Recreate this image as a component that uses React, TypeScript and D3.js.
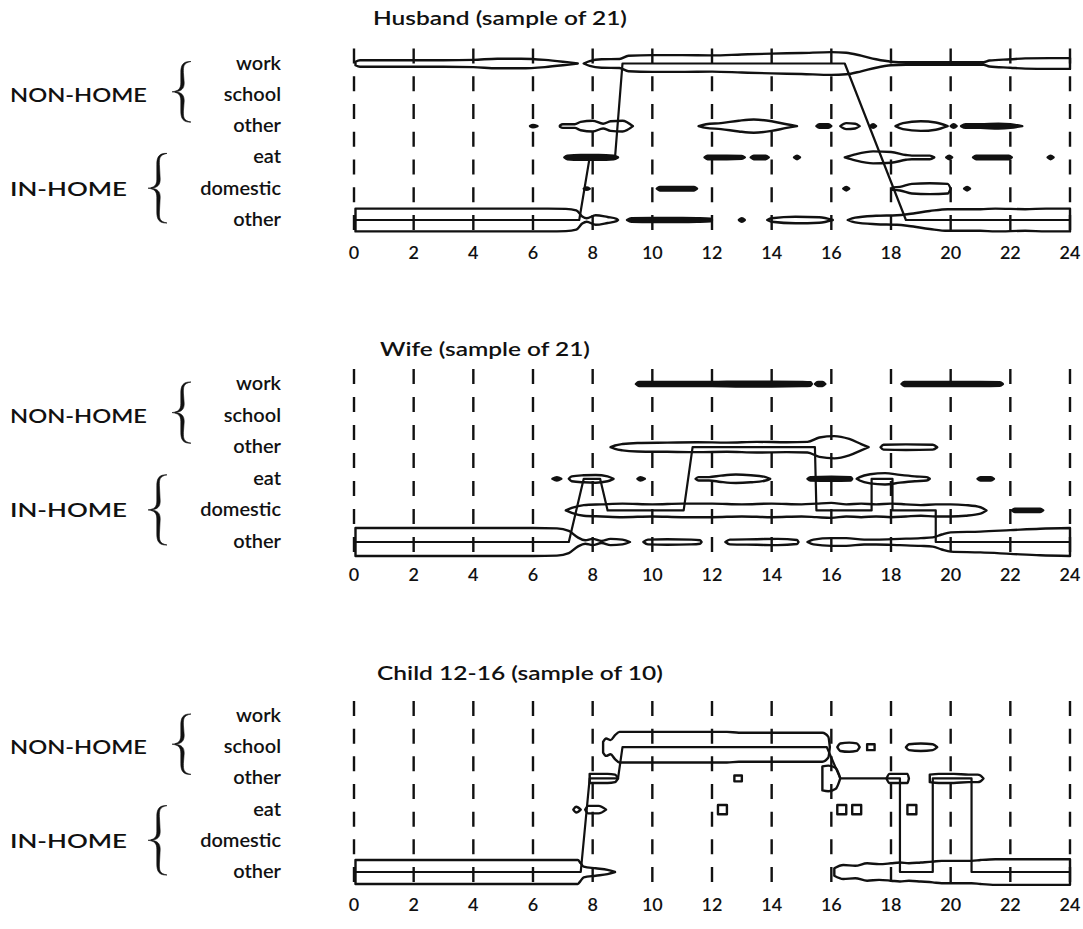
import React from "react";
import * as d3 from "d3";

type Pt = [number, number];
interface Band { row: number; pts: Pt[] }

const hourTicks = [0, 2, 4, 6, 8, 10, 12, 14, 16, 18, 20, 22, 24];
const rowLabels = ["work", "school", "other", "eat", "domestic", "other"];
const groupLabels = ["NON-HOME", "IN-HOME"];
const panelTitles = ["Husband (sample of 21)", "Wife (sample of 21)", "Child 12-16 (sample of 10)"];

// [hour, persons] along each activity row
const husbandBands: Band[] = [
  { row: 0, pts: [[0.05, 5], [0.2, 7.5], [1, 7.5], [2, 7.5], [3, 7.5], [4, 8], [4.8, 10], [5.6, 10], [6.4, 8], [7, 5], [7.5, 0]] },
  { row: 0, pts: [[7.7, 0], [7.9, 6], [8.3, 9], [8.9, 9.5], [9.2, 15], [10, 16], [11, 16], [12, 15.5], [13, 17], [14, 18.5], [15, 19.5], [16, 21], [16.5, 20], [17, 15], [17.5, 9], [18, 5], [18.5, 4], [19.5, 4], [20.5, 4], [21.1, 4], [21.3, 7], [22, 9], [22.5, 10.5], [23.3, 11], [24, 11]] },
  { row: 2, pts: [[5.9, 0], [6.0, 4], [6.15, 0]] },
  { row: 2, pts: [[6.9, 3], [7.0, 5], [7.4, 5], [7.6, 9], [8.0, 11], [8.35, 6], [8.6, 10], [9.0, 11], [9.35, 0]] },
  { row: 2, pts: [[11.55, 0], [11.8, 5], [12.3, 7], [12.9, 11], [13.4, 13], [14.0, 10], [14.5, 5], [14.85, 0]] },
  { row: 2, pts: [[15.5, 0], [15.6, 5], [15.9, 5], [16.0, 0]] },
  { row: 2, pts: [[16.3, 0], [16.5, 7], [16.8, 6], [16.95, 0]] },
  { row: 2, pts: [[17.3, 0], [17.4, 5], [17.5, 0]] },
  { row: 2, pts: [[18.15, 0], [18.4, 7], [19.0, 10], [19.5, 8], [19.9, 0]] },
  { row: 2, pts: [[20.0, 0], [20.1, 5], [20.2, 0]] },
  { row: 2, pts: [[20.35, 0], [20.5, 5], [21, 5], [21.6, 6], [22, 5], [22.4, 0]] },
  { row: 3, pts: [[7.05, 0], [7.15, 5], [7.6, 6], [8.2, 6], [8.7, 5], [8.85, 0]] },
  { row: 3, pts: [[11.75, 0], [11.85, 5], [12.5, 5], [13.0, 4.5], [13.1, 0]] },
  { row: 3, pts: [[13.3, 0], [13.4, 5], [13.8, 5], [13.9, 0]] },
  { row: 3, pts: [[14.75, 0], [14.85, 5], [14.95, 0]] },
  { row: 3, pts: [[16.45, 0], [16.8, 7], [17.4, 12], [18.0, 11], [18.5, 6], [18.7, 5], [19.3, 5], [19.45, 0]] },
  { row: 3, pts: [[19.85, 0], [19.95, 5], [20.05, 0]] },
  { row: 3, pts: [[20.75, 0], [20.85, 5], [21.4, 5], [21.95, 5], [22.05, 0]] },
  { row: 3, pts: [[23.25, 0], [23.35, 5], [23.45, 0]] },
  { row: 4, pts: [[7.7, 0], [7.8, 4], [7.9, 0]] },
  { row: 4, pts: [[10.15, 0], [10.25, 5], [11.4, 5], [11.5, 0]] },
  { row: 4, pts: [[16.4, 0], [16.5, 5], [16.6, 0]] },
  { row: 4, pts: [[18.05, 4], [18.3, 5], [18.7, 10], [19.3, 11], [19.9, 10], [20.0, 0]] },
  { row: 4, pts: [[20.45, 0], [20.55, 5], [20.65, 0]] },
  { row: 5, pts: [[0.05, 21], [1, 21], [3, 21], [5, 21], [6.5, 21], [7.1, 20.5], [7.45, 18], [7.65, 8], [7.8, 5], [8.1, 10], [8.5, 7], [8.8, 4], [8.85, 0]] },
  { row: 5, pts: [[9.15, 0], [9.3, 5], [10, 5.5], [11, 5.5], [11.5, 5], [11.95, 4], [12.0, 0]] },
  { row: 5, pts: [[12.9, 0], [13.0, 5], [13.1, 0]] },
  { row: 5, pts: [[13.85, 0], [14, 5], [14.8, 7.5], [15.6, 6.5], [16.05, 0]] },
  { row: 5, pts: [[16.55, 0], [16.8, 6], [17.5, 9], [18.2, 10], [18.6, 12], [19.3, 17], [19.9, 20], [21, 20], [21.5, 21], [22.5, 20], [23.2, 21], [24, 21]] },
];

const wifeBands: Band[] = [
  { row: 0, pts: [[9.45, 0], [9.55, 4.5], [10, 4.5], [11, 4.5], [12, 4.5], [13, 5], [14, 5], [15, 4.5], [15.3, 4], [15.35, 0]] },
  { row: 0, pts: [[15.45, 0], [15.55, 4.5], [15.7, 4.5], [15.8, 0]] },
  { row: 0, pts: [[18.35, 0], [18.45, 4.5], [19, 4.5], [20, 4.5], [21, 4.5], [21.65, 4], [21.75, 0]] },
  { row: 2, pts: [[8.6, 0], [8.75, 4], [9, 6], [9.5, 7.5], [10.5, 8], [11.5, 8.5], [12.5, 8], [13.5, 9], [14.5, 8.5], [15.2, 9], [15.6, 15], [16.1, 17], [16.6, 13], [17.0, 6], [17.25, 0]] },
  { row: 2, pts: [[17.65, 0], [17.75, 5], [18.5, 5.5], [19.4, 5], [19.55, 0]] },
  { row: 3, pts: [[6.65, 0], [6.8, 4], [6.95, 0]] },
  { row: 3, pts: [[7.2, 0], [7.3, 5], [7.7, 6.5], [8.1, 7], [8.5, 5], [8.7, 0]] },
  { row: 3, pts: [[9.5, 0], [9.6, 4], [9.75, 0]] },
  { row: 3, pts: [[11.45, 0], [11.55, 4], [11.9, 4], [12.3, 6], [12.8, 7.5], [13.3, 6.5], [13.8, 4], [13.95, 0]] },
  { row: 3, pts: [[15.2, 0], [15.3, 4], [16.0, 4.5], [16.65, 4], [16.7, 0]] },
  { row: 3, pts: [[16.85, 0], [16.95, 4], [17.3, 8], [17.8, 9.5], [18.3, 7], [18.8, 5], [19.2, 4], [19.3, 0]] },
  { row: 3, pts: [[20.9, 0], [21.0, 4], [21.35, 4], [21.45, 0]] },
  { row: 4, pts: [[7.1, 0], [7.3, 5], [7.7, 9], [8.3, 10], [9, 11], [10, 10], [11, 11], [12, 11], [13, 10], [14, 11], [15, 10], [15.5, 11], [16, 12], [16.5, 10], [17, 11], [17.5, 10], [18, 11], [18.5, 10], [19, 9], [19.5, 10], [20, 10], [20.5, 9], [21, 6], [21.2, 0]] },
  { row: 4, pts: [[22.05, 0], [22.15, 4], [23.0, 4], [23.1, 0]] },
  { row: 5, pts: [[0.05, 21], [2, 21], [4, 21], [6, 21], [6.8, 20.5], [7.2, 17], [7.5, 8], [7.75, 4], [8.0, 6], [8.3, 3], [8.6, 6], [9.0, 5], [9.25, 0]] },
  { row: 5, pts: [[9.7, 0], [9.85, 5], [10.5, 5.5], [11.3, 5], [11.6, 4], [11.65, 0]] },
  { row: 5, pts: [[12.45, 0], [12.6, 5], [13.5, 5.5], [14.2, 6], [14.85, 4.5], [14.9, 0]] },
  { row: 5, pts: [[15.2, 0], [15.4, 5], [16, 7], [16.5, 7], [17.1, 5], [17.5, 5], [18.3, 6], [19.0, 7], [19.4, 8], [19.7, 12], [20, 15], [21, 16], [22, 18], [23, 20], [24, 21]] },
];

const childBands: Band[] = [
  { row: 1, pts: [[8.35, 4], [8.45, 6], [8.6, 5], [8.75, 8], [8.9, 10], [9.5, 10], [10.5, 10], [11.5, 10], [12.5, 10], [12.9, 9.5], [13.5, 9.5], [14.5, 9.5], [15.3, 9.5], [15.7, 9.5], [15.9, 7], [15.95, 0]] },
  { row: 1, pts: [[16.2, 0], [16.3, 3], [16.6, 3.5], [16.85, 3], [16.95, 0]] },
  { row: 1, pts: [[17.2, 2.5], [17.45, 2.5]] },
  { row: 1, pts: [[18.5, 0], [18.6, 2.5], [19.0, 3], [19.4, 2.5], [19.55, 0]] },
  { row: 2, pts: [[7.9, 3.5], [8.2, 3.5], [8.5, 3.5], [8.75, 3], [8.85, 0]] },
  { row: 2, pts: [[12.75, 2.5], [13.0, 2.5]] },
  { row: 2, pts: [[15.7, 8], [15.9, 8.5], [16.15, 7], [16.3, 0]] },
  { row: 2, pts: [[17.85, 0], [17.95, 3.5], [18.3, 3.5], [18.55, 3.5], [18.6, 0]] },
  { row: 2, pts: [[19.3, 3], [19.6, 3.5], [20.1, 3.5], [20.6, 3], [20.9, 3], [21.0, 2.5], [21.1, 0]] },
  { row: 3, pts: [[7.35, 0], [7.45, 2.5], [7.6, 0]] },
  { row: 3, pts: [[7.75, 0], [7.85, 3], [8.2, 3], [8.45, 0]] },
  { row: 3, pts: [[12.2, 3.5], [12.5, 3.5]] },
  { row: 3, pts: [[16.2, 3.5], [16.5, 3.5]] },
  { row: 3, pts: [[16.7, 3.5], [17.0, 3.5]] },
  { row: 3, pts: [[18.55, 3.5], [18.85, 3.5]] },
  { row: 5, pts: [[0.05, 8], [2, 8], [4, 8], [6, 8], [7, 8], [7.5, 8], [7.6, 6], [7.7, 4], [8.1, 3], [8.5, 2], [8.75, 0]] },
  { row: 5, pts: [[16.1, 3], [16.4, 5], [16.8, 4.5], [17.2, 6], [17.6, 5.5], [18, 6], [18.3, 6.5], [18.6, 6], [19, 6.5], [19.4, 7], [19.7, 7.5], [20.2, 7.5], [20.7, 7.5], [21, 8], [21.5, 8.5], [22, 8.5], [23, 8.5], [24, 8.5]] },
];

// median daily path [hour, row]
const husbandPath: Pt[] = [[0.05, 5], [7.55, 5], [7.9, 3], [8.75, 3], [9.0, 0], [16.45, 0], [18.5, 5], [24, 5]];
const wifePath: Pt[] = [[0.05, 5], [7.2, 5], [7.7, 3], [8.25, 3], [8.5, 4], [11.05, 4], [11.35, 2], [15.45, 2], [15.5, 4], [17.35, 4], [17.35, 3], [18.05, 3], [18.05, 4], [19.5, 4], [19.5, 5], [24, 5]];
const childPath: Pt[] = [[0.05, 5], [7.6, 5], [7.9, 2], [8.85, 2], [9.0, 1], [15.85, 1], [16.3, 2], [18.3, 2], [18.3, 5], [19.4, 5], [19.4, 2], [20.7, 2], [20.7, 5], [24, 5]];

const panelBands = [husbandBands, wifeBands, childBands];
const panelPaths = [husbandPath, wifePath, childPath];

const layouts = [
  { titleX: 373, titleY: 25, titleW: 254, top: 63.5, step: 31.3, k: 1.2 },
  { titleX: 380, titleY: 356, titleW: 210, top: 384, step: 31.6, k: 1.45 },
  { titleX: 377, titleY: 680, titleW: 286, top: 716, step: 31.2, k: 3.3 },
];

const FONT = "Lato, 'Open Sans', sans-serif";

// filled curly brace, tip pointing left
function bracePath(xTip: number, xArm: number, yTop: number, yBot: number) {
  const ym = (yTop + yBot) / 2;
  const xm = (xTip + xArm) / 2 + 1;
  const t = 1.7;
  return [
    `M${xArm},${yTop}`,
    `C${xm - t + 2},${yTop - 0.5} ${xm - t},${yTop + 4} ${xm - t},${yTop + 11}`,
    `L${xm - t},${ym - 9}`,
    `C${xm - t},${ym - 3} ${xm - 4},${ym - 0.8} ${xTip},${ym}`,
    `C${xm - 4},${ym + 0.8} ${xm - t},${ym + 3} ${xm - t},${ym + 9}`,
    `L${xm - t},${yBot - 11}`,
    `C${xm - t},${yBot - 4} ${xm - t + 2},${yBot + 0.5} ${xArm},${yBot}`,
    `C${xm + t - 1},${yBot - 1.5} ${xm + t - 0.8},${yBot - 5} ${xm + t - 0.8},${yBot - 11}`,
    `L${xm + t},${ym + 9}`,
    `C${xm + t},${ym + 3} ${xm - 1},${ym + 0.6} ${xTip + 3},${ym}`,
    `C${xm - 1},${ym - 0.6} ${xm + t},${ym - 3} ${xm + t},${ym - 9}`,
    `L${xm + t - 0.8},${yTop + 11}`,
    `C${xm + t - 0.8},${yTop + 5} ${xm + t - 1},${yTop + 1.5} ${xArm},${yTop}`,
    "Z",
  ].join(" ");
}

export default function App() {
  const x = d3.scaleLinear().domain([0, 24]).range([354, 1070]);
  const W = 2.4;
  const txt = { fontFamily: FONT, fill: "#111", fontWeight: 600 } as const;

  return (
    <svg width={1083} height={929} style={{ position: "absolute", left: 0, top: 0, background: "#fff" }}>
      {layouts.map((L, pi) => {
        const y = (r: number) => L.top + r * L.step;
        const half = (n: number) => Math.max(0, (n * L.k) / 2 - W / 2);
        const yTop = y(0) - 15;
        const yBot = y(5) + 10;
        const len = yBot - yTop;
        const dash = 15;
        const gap = (len - 7 * dash) / 6;
        const line = d3.line<Pt>().x(d => x(d[0])).y(d => y(d[1]));
        return (
          <g key={pi}>
            <text x={L.titleX} y={L.titleY} fontSize={20} textLength={L.titleW} lengthAdjust="spacingAndGlyphs" {...txt}>{panelTitles[pi]}</text>
            {rowLabels.map((lab, i) => (
              <text key={i} x={281} y={y(i) + 6} textAnchor="end" fontSize={20} {...txt}>{lab}</text>
            ))}
            <text x={10} y={y(1) + 7} fontSize={20} textLength={137} lengthAdjust="spacingAndGlyphs" {...txt}>{groupLabels[0]}</text>
            <text x={10} y={y(4) + 7} fontSize={20} textLength={117} lengthAdjust="spacingAndGlyphs" {...txt}>{groupLabels[1]}</text>
            <path d={bracePath(172, 191, y(0) - 2, y(2) - 4)} fill="#111" stroke="#111" strokeWidth={0.6} />
            <path d={bracePath(148, 167, y(3) - 4, y(5) + 3)} fill="#111" stroke="#111" strokeWidth={0.6} />
            {panelBands[pi].map((b, bi) => {
              const cy = y(b.row);
              const area = d3.area<Pt>()
                .x(d => x(d[0]))
                .y0(d => cy - half(d[1]))
                .y1(d => cy + half(d[1]))
                .curve(d3.curveMonotoneX);
              const maxT = d3.max(b.pts, d => d[1] * L.k) || 0;
              return (
                <path key={bi} d={area(b.pts) || ""} fill={maxT < 7.5 ? "#111" : "#fff"} stroke="#111" strokeWidth={W} strokeLinejoin="round" />
              );
            })}
            {hourTicks.map(h => (
              <line key={h} x1={x(h)} x2={x(h)} y1={yTop} y2={yBot} stroke="#111" strokeWidth={2.4} strokeDasharray={`${dash},${gap}`} />
            ))}
            <path d={line(panelPaths[pi]) || ""} fill="none" stroke="#111" strokeWidth={2.2} strokeLinejoin="round" />
            {hourTicks.map(h => (
              <text key={h} x={x(h)} y={y(5) + 39} textAnchor="middle" fontSize={18} {...txt}>{h}</text>
            ))}
          </g>
        );
      })}
    </svg>
  );
}
